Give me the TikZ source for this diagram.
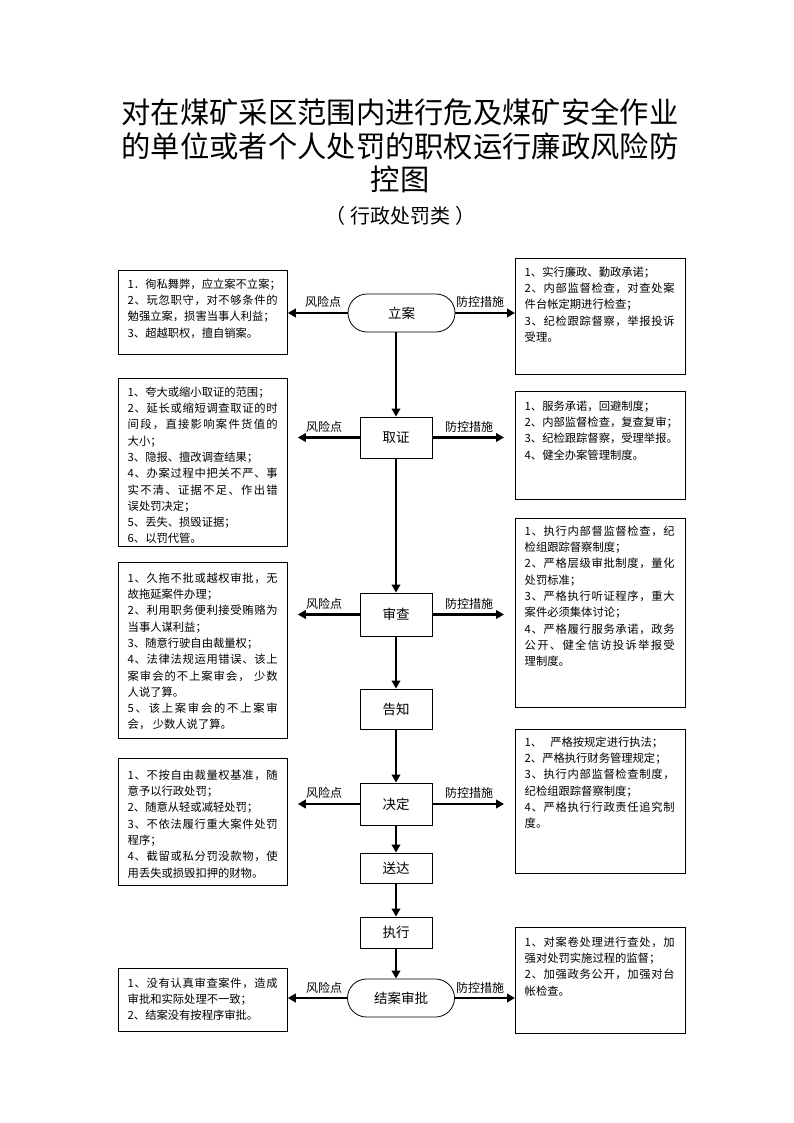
\documentclass[tikz,border=0pt]{standalone}
\usepackage{fontspec}
\setmainfont{Noto Sans CJK SC}
\usetikzlibrary{arrows.meta}
\makeatletter
\newlength\jw \setlength\jw{150pt}
\newcommand\J[1]{\hbox to\jw{\@tfor\jx:=#1\do{\jx\hfil}\unskip}}
\makeatother
\tikzset{
  box/.style={draw, line width=0.8pt, anchor=north west, inner sep=0pt},
  lbox/.style={box, minimum width=169pt},
  rbox/.style={box, minimum width=170pt},
  txt/.style={anchor=north west, inner sep=0pt, align=left, font=\fontsize{11.3}{16.3}\selectfont},
  stage/.style={draw, line width=0.8pt, font=\fontsize{13.5}{14}\selectfont, minimum width=72pt, inner sep=0pt},
  oval/.style={stage, rounded corners=19pt, minimum width=107pt, minimum height=38pt},
  flow/.style={line width=2.2pt, -{Triangle[length=8pt,width=8.5pt]}},
  lbl/.style={font=\fontsize{12}{12}\selectfont, inner sep=0pt},
}
\begin{document}
\begin{tikzpicture}[x=1pt,y=-1pt]
\useasboundingbox (0,0) rectangle (794,1123);
% title
\node[font=\fontsize{29.3}{33.5}\selectfont, align=center, inner sep=0pt] (title) at (400,146)
  {对在煤矿采区范围内进行危及煤矿安全作业\\的单位或者个人处罚的职权运行廉政风险防\\控图};
\node[font=\fontsize{20}{20}\selectfont, inner sep=0pt] (sub) at (400,216) {（\hspace{5pt}行政处罚类\hspace{5pt}）};

% stage nodes
\node[oval] (la) at (401.5,313) {立案};
\node[stage, minimum height=41pt] (qz) at (396,437.5) {取证};
\node[stage, minimum height=43pt] (sc) at (396,614.5) {审查};
\node[stage, minimum height=40pt] (gz) at (396,709) {告知};
\node[stage, minimum height=42pt] (jd) at (396,804) {决定};
\node[stage, minimum height=30pt] (sd) at (396,868) {送达};
\node[stage, minimum height=31pt] (zx) at (396,932.5) {执行};
\node[oval] (ja) at (401,998) {结案审批};

% left boxes
\node[lbox, minimum height=84pt] (L1) at (118,270) {};
\node[lbox, minimum height=168pt] (L2) at (118,378) {};
\node[lbox, minimum height=176pt] (L3) at (118,562) {};
\node[lbox, minimum height=127pt] (L4) at (118,758) {};
\node[lbox, minimum height=63pt] (L5) at (118,968) {};
% right boxes
\node[rbox, minimum height=116pt] (R1) at (515,258) {};
\node[rbox, minimum height=108pt] (R2) at (515,391) {};
\node[rbox, minimum height=189pt] (R3) at (515,518) {};
\node[rbox, minimum height=144pt] (R4) at (515,729) {};
\node[rbox, minimum height=106pt] (R5) at (515,927) {};

% texts left
\node[txt] (tl1) at (127.5,278.5) {1．徇私舞弊，应立案不立案；\\\J{2、玩忽职守，对不够条件的}\\勉强立案，损害当事人利益；\\3、超越职权，擅自销案。};
\node[txt] (tl2) at (127.5,386.5) {1、夸大或缩小取证的范围；\\\J{2、延长或缩短调查取证的时}\\\J{间段，直接影响案件货值的}\\大小；\\3、隐报、擅改调查结果；\\\J{4、办案过程中把关不严、事}\\\J{实不清、证据不足、作出错}\\误处罚决定；\\5、丢失、损毁证据；\\6、以罚代管。};
\node[txt] (tl3) at (127.5,572.5) {\J{1、久拖不批或越权审批，无}\\故拖延案件办理；\\\J{2、利用职务便利接受贿赂为}\\当事人谋利益；\\3、随意行驶自由裁量权；\\\J{4、法律法规运用错误、该上}\\\J{案审会的不上案审会，\ 少数}\\人说了算。\\\J{5、该上案审会的不上案审}\\会， 少数人说了算。};
\node[txt] (tl4) at (127.5,769.5) {\J{1、不按自由裁量权基准，随}\\意予以行政处罚；\\2、随意从轻或减轻处罚；\\\J{3、不依法履行重大案件处罚}\\程序；\\\J{4、截留或私分罚没款物，使}\\用丢失或损毁扣押的财物。};
\node[txt] (tl5) at (127.5,977.5) {\J{1、没有认真审查案件，造成}\\审批和实际处理不一致；\\2、结案没有按程序审批。};
% texts right
\node[txt] (tr1) at (524.5,266.5) {1、实行廉政、勤政承诺；\\\J{2、内部监督检查，对查处案}\\件台帐定期进行检查；\\\J{3、纪检跟踪督察，举报投诉}\\受理。};
\node[txt] (tr2) at (524.5,400.5) {1、服务承诺，回避制度；\\2、内部监督检查，复查复审；\\3、纪检跟踪督察，受理举报。\\4、健全办案管理制度。};
\node[txt] (tr3) at (524.5,525.5) {\J{1、执行内部督监督检查，纪}\\检组跟踪督察制度；\\\J{2、严格层级审批制度，量化}\\处罚标准；\\\J{3、严格执行听证程序，重大}\\案件必须集体讨论；\\\J{4、严格履行服务承诺，政务}\\\J{公开、健全信访投诉举报受}\\理制度。};
\node[txt] (tr4) at (524.5,736.5) {1、\hspace{8pt}严格按规定进行执法；\\2、严格执行财务管理规定；\\\J{3、执行内部监督检查制度，}\\纪检组跟踪督察制度；\\\J{4、严格执行行政责任追究制}\\度。};
\node[txt] (tr5) at (524.5,936.5) {\J{1、对案卷处理进行查处，加}\\强对处罚实施过程的监督；\\\J{2、加强政务公开，加强对台}\\帐检查。};

% vertical flow
\draw[flow] (qz.north |- la.south) -- (qz.north);
\draw[flow] (qz) -- (sc);
\draw[flow] (sc) -- (gz);
\draw[flow] (gz) -- (jd);
\draw[flow] (jd) -- (sd);
\draw[flow] (sd) -- (zx);
\draw[flow] (zx.south) -- (zx.south |- ja.north);

% horizontal arrows
\draw[flow] (la.west) -- (la.west -| L1.east);
\draw[flow] (la.east) -- (la.east -| R1.west);
\draw[flow, shorten >=10pt] (qz.west) -- (qz.west -| L2.east);
\draw[flow, shorten >=11pt] (qz.east) -- (qz.east -| R2.west);
\draw[flow, shorten >=10pt] (sc.west) -- (sc.west -| L3.east);
\draw[flow, shorten >=11pt] (sc.east) -- (sc.east -| R3.west);
\draw[flow, shorten >=10pt] (jd.west) -- (jd.west -| L4.east);
\draw[flow, shorten >=11pt] (jd.east) -- (jd.east -| R4.west);
\draw[flow] (ja.west) -- (ja.west -| L5.east);
\draw[flow] (ja.east) -- (ja.east -| R5.west);

% labels
\node[lbl] (f1) at (323,302) {风险点};
\node[lbl] (k1) at (480,302) {防控措施};
\node[lbl] (f2) at (324,427) {风险点};
\node[lbl] (k2) at (469,427) {防控措施};
\node[lbl] (f3) at (324,604) {风险点};
\node[lbl] (k3) at (469,604) {防控措施};
\node[lbl] (f4) at (324,793) {风险点};
\node[lbl] (k4) at (469,793) {防控措施};
\node[lbl] (f5) at (324,988) {风险点};
\node[lbl] (k5) at (480,988) {防控措施};
\end{tikzpicture}
\end{document}
